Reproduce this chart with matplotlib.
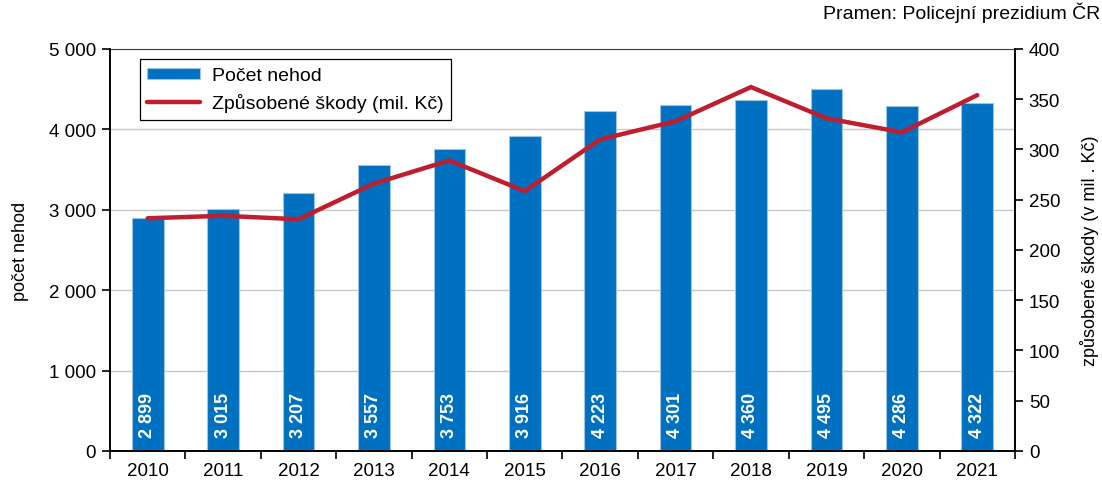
import numpy as np
import matplotlib.pyplot as plt
from matplotlib.ticker import FuncFormatter, MultipleLocator

plt.rcParams["font.family"] = ["Liberation Sans", "DejaVu Sans"]

# Data
years = ["2010", "2011", "2012", "2013", "2014", "2015",
         "2016", "2017", "2018", "2019", "2020", "2021"]
accidents = [2899, 3015, 3207, 3557, 3753, 3916, 4223, 4301, 4360, 4495, 4286, 4322]
damages = [231.5, 234, 230.5, 266, 289, 258.5, 310, 328, 362, 331, 317, 354]

BAR_COLOR = "#0070C0"
LINE_COLOR = "#BE1E2D"


def space_thousands(v, pos=None):
    return f"{int(v):,}".replace(",", " ")


fig = plt.figure(figsize=(11.02, 4.81), dpi=100)
ax = fig.add_axes([0.0998, 0.0603, 0.8212, 0.836])
ax2 = ax.twinx()

x = np.arange(len(years))
bars = ax.bar(x, accidents, width=0.42, color=BAR_COLOR,
              edgecolor="#9DC3E6", linewidth=0.8, zorder=2,
              label="Počet nehod")

for xi, v in zip(x, accidents):
    ax.text(xi, 170, space_thousands(v), rotation=90, ha="center", va="bottom",
            color="white", fontsize=13, fontweight="bold", zorder=3,
            family=["Liberation Sans Narrow", "Liberation Sans"])

line, = ax2.plot(x, damages, color=LINE_COLOR, linewidth=3.2,
                 solid_capstyle="round", solid_joinstyle="miter",
                 label="Způsobené škody (mil. Kč)", zorder=4)

# Left axis
ax.set_xlim(-0.5, len(years) - 0.5)
ax.set_ylim(0, 5000)
ax.yaxis.set_major_locator(MultipleLocator(1000))
ax.yaxis.set_major_formatter(FuncFormatter(space_thousands))
ax.grid(axis="y", color="#C8C8C8", linewidth=1.0, zorder=0)
ax.set_axisbelow(True)
ax.set_ylabel("počet nehod", fontsize=13, labelpad=14)

ax.set_xticks(x)
ax.set_xticklabels(years)
ax.set_xticks(np.arange(-0.5, len(years)), minor=True)
ax.tick_params(axis="x", which="major", length=0, labelsize=13.5, pad=8)
ax.tick_params(axis="x", which="minor", length=6, width=1.2, direction="out")
ax.tick_params(axis="y", labelsize=13.5, length=6, width=1.2, direction="out", pad=4)

# Right axis
ax2.set_ylim(0, 400)
ax2.yaxis.set_major_locator(MultipleLocator(50))
ax2.tick_params(axis="y", labelsize=13.5, length=6, width=1.2, direction="out", pad=4)
ax2.set_ylabel("způsobené škody (v mil . Kč)", fontsize=13, labelpad=14)

for a in (ax, ax2):
    for s in a.spines.values():
        s.set_linewidth(1.2)
        s.set_color("black")
ax.spines["top"].set_color("#404040")
ax.spines["top"].set_linewidth(0.8)
ax2.spines["top"].set_visible(False)

# Legend
leg = ax.legend(handles=[bars, line], loc="upper left",
                bbox_to_anchor=(0.022, 0.998), fontsize=14, frameon=True,
                fancybox=False, edgecolor="black", framealpha=1,
                handlelength=2.7, handleheight=0.5, handletextpad=0.6,
                borderpad=0.4, labelspacing=0.45)
leg.get_frame().set_linewidth(0.9)
leg.set_zorder(10)

fig.text(0.998, 0.952, "Pramen: Policejní prezidium ČR", ha="right",
         va="bottom", fontsize=14)

fig.savefig("out.png", dpi=100, facecolor="white")
